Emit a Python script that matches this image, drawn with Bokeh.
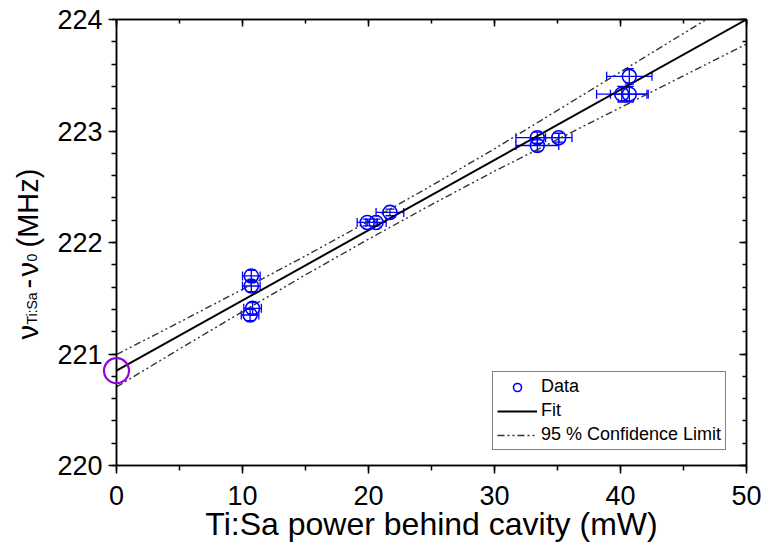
import math
from bokeh.plotting import figure
from bokeh.models import (Range1d, LinearAxis, SingleIntervalTicker, Whisker, TeeHead,
                          ColumnDataSource, Legend, LegendItem)
from bokeh.core.properties import value
from bokeh.embed import file_html
from bokeh.resources import INLINE

# ---------------- data ----------------
power = [10.7, 10.7, 10.8, 10.6, 21.7, 19.9, 20.6, 33.4, 33.4, 35.1, 40.7, 40.1, 40.7]
freq = [221.70, 221.61, 221.41, 221.35, 222.27, 222.18, 222.18, 222.94, 222.87, 222.94, 223.49, 223.33, 223.33]
power_err = [0.7, 0.7, 0.7, 0.7, 1.1, 0.8, 0.8, 1.7, 1.7, 1.05, 1.8, 2.0, 1.5]
freq_err = [0.05, 0.05, 0.05, 0.05, 0.03, 0.03, 0.03, 0.05, 0.05, 0.04, 0.07, 0.07, 0.07]

fit_x = [0, 50]
fit_y = [220.85, 224.0]

cl_x = [0, 5, 10, 15, 20, 25, 30, 35, 40, 45, 50]
cl_upper = [220.995, 221.285, 221.58, 221.88, 222.19, 222.51, 222.84, 223.185, 223.53, 223.875, 224.22]
cl_lower = [220.705, 221.045, 221.38, 221.71, 222.03, 222.34, 222.64, 222.925, 223.21, 223.495, 223.78]

intercept_x = [0]
intercept_y = [220.85]

x_ticks_interval = 10
y_ticks_interval = 1

FONT = "Liberation Sans"
BLUE = "#0000FF"

src = ColumnDataSource(dict(
    x=power, y=freq,
    xl=[a - b for a, b in zip(power, power_err)], xu=[a + b for a, b in zip(power, power_err)],
    yl=[a - b for a, b in zip(freq, freq_err)], yu=[a + b for a, b in zip(freq, freq_err)],
))

p = figure(width=763, height=552, x_range=Range1d(0, 50), y_range=Range1d(220, 224),
           output_backend="svg", toolbar_location=None,
           min_border_left=116, min_border_right=17, min_border_top=19, min_border_bottom=87,
           x_axis_label="Ti:Sa power behind cavity (mW)")
p.grid.visible = False
p.background_fill_color = "white"
p.border_fill_color = "white"
p.outline_line_color = "black"
p.outline_line_width = 1.5

# main axes
xa = p.xaxis[0]
ya = p.yaxis[0]
xa.ticker = SingleIntervalTicker(interval=x_ticks_interval, num_minor_ticks=2)
ya.ticker = SingleIntervalTicker(interval=y_ticks_interval, num_minor_ticks=5)
for ax in (xa, ya):
    ax.axis_line_width = 1.5
    ax.major_tick_line_width = 1.5
    ax.minor_tick_line_width = 1.5
    ax.major_tick_out = 8
    ax.major_tick_in = 0
    ax.minor_tick_out = 5
    ax.minor_tick_in = 0
    ax.major_label_text_font = FONT
    ax.major_label_text_font_size = "27px"
    ax.major_label_text_color = "black"
xa.major_label_standoff = 12
ya.major_label_standoff = 6
xa.axis_label_text_font = FONT
xa.axis_label_text_font_size = "32px"
xa.axis_label_text_font_style = "normal"
xa.axis_label_text_color = "black"
xa.axis_label_standoff = -2

# mirrored axes (no labels, ticks inside)
top = LinearAxis(ticker=SingleIntervalTicker(interval=x_ticks_interval, num_minor_ticks=2))
right = LinearAxis(ticker=SingleIntervalTicker(interval=y_ticks_interval, num_minor_ticks=5))
for ax in (top, right):
    ax.major_label_text_font_size = "6px"
    ax.major_label_text_color = None
    ax.axis_line_width = 1.5
    ax.major_tick_line_width = 1.5
    ax.minor_tick_line_width = 1.5
    ax.major_tick_out = 0
    ax.major_tick_in = 7
    ax.minor_tick_out = 0
    ax.minor_tick_in = 4
    ax.major_label_standoff = 0
p.add_layout(top, "above")
p.add_layout(right, "right")

# confidence limits and fit
cl_dash = "7 3 2 3 2 3"
r_cu = p.line(cl_x, cl_upper, line_color="#333333", line_width=1.4, line_dash=cl_dash)
r_cl = p.line(cl_x, cl_lower, line_color="#333333", line_width=1.4, line_dash=cl_dash)
r_fit = p.line(fit_x, fit_y, line_color="black", line_width=2)

# error bars
p.add_layout(Whisker(source=src, base="y", lower="xl", upper="xu", dimension="width",
                     line_color=BLUE, line_width=1.3,
                     upper_head=TeeHead(size=9, line_color=BLUE, line_width=1.3),
                     lower_head=TeeHead(size=9, line_color=BLUE, line_width=1.3)))
p.add_layout(Whisker(source=src, base="x", lower="yl", upper="yu", dimension="height",
                     line_color=BLUE, line_width=1.3,
                     upper_head=TeeHead(size=9, line_color=BLUE, line_width=1.3),
                     lower_head=TeeHead(size=9, line_color=BLUE, line_width=1.3)))

r_data = p.scatter("x", "y", source=src, marker="circle", size=14, line_color=BLUE,
                   line_width=1.6, fill_color="white", fill_alpha=0.0)

# intercept marker (drawn above the frame clip)
p.scatter(intercept_x, intercept_y, marker="circle", size=25, line_color="#9400E0",
          line_width=2.2, fill_alpha=0, level="overlay")

legend = Legend(items=[
    LegendItem(label="Data", renderers=[r_data]),
    LegendItem(label="Fit", renderers=[r_fit]),
    LegendItem(label="95 % Confidence Limit", renderers=[r_cu]),
], location=(376, 15))
legend.label_text_font = FONT
legend.label_text_font_size = "18px"
legend.label_text_color = "black"
legend.border_line_color = "black"
legend.border_line_width = 1.2
legend.glyph_width = 40
legend.glyph_height = 20
legend.label_height = 20
legend.spacing = 3
legend.padding = 4
legend.margin = 0
legend.label_standoff = 4
legend.background_fill_alpha = 1
p.add_layout(legend, "center")

# ---------------- y-axis title (with subscripts), placed left of the frame ----------------
FRAME_LEFT, FRAME_TOP, PX_PER_MHZ = 116, 19, 111.5
MAIN_FS = "29px"
SUB_FS = "14px"
# (text, start position from top in px, baseline x in px, size)
pieces = [
    ("ν", 339, 27, MAIN_FS),
    ("Ti:Sa", 324, 31, SUB_FS),
    ("-", 288, 27, MAIN_FS),
    ("ν", 276, 27, MAIN_FS),
    ("0", 261, 31, SUB_FS),
    ("(MHz)", 247, 27, MAIN_FS),
]
for txt, py, bx, fs in pieces:
    p.text(x=[0], y=[224 - (py - FRAME_TOP) / PX_PER_MHZ], text=[txt], angle=math.pi / 2,
           x_offset=bx - FRAME_LEFT,
           text_font=value(FONT), text_font_size=value(fs), text_color="black",
           text_align="left", text_baseline="alphabetic", level="overlay")

open("out.html", "w").write(file_html(p, INLINE))
